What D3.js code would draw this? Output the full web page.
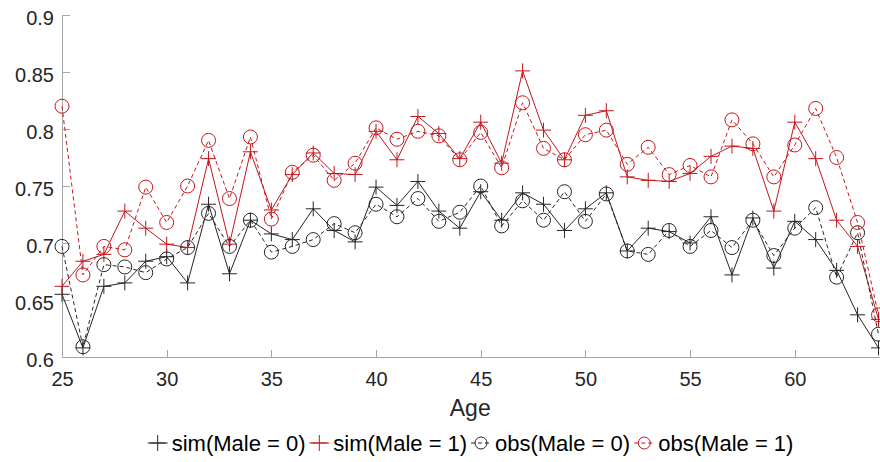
<!DOCTYPE html>
<html>
<head>
<meta charset="utf-8">
<script src="https://cdn.jsdelivr.net/npm/d3@7"></script>
<style>
html,body{margin:0;padding:0;background:#fff;}
svg{display:block;font-family:"Liberation Sans",Arial,sans-serif;}
</style>
</head>
<body>
<svg id="chart" width="880" height="462"></svg>
<script>
const ages = d3.range(25, 65);
const sim0 = [0.655,0.608,0.662,0.665,0.684,0.688,0.665,0.734,0.673,0.720,
              0.708,0.703,0.730,0.711,0.701,0.749,0.733,0.754,0.728,0.713,
              0.745,0.720,0.744,0.734,0.711,0.730,0.744,0.693,0.713,0.710,
              0.700,0.723,0.672,0.722,0.678,0.719,0.703,0.676,0.637,0.608];
const sim1 = [0.662,0.684,0.690,0.728,0.713,0.699,0.696,0.774,0.699,0.780,
              0.729,0.760,0.779,0.761,0.760,0.798,0.773,0.811,0.796,0.774,
              0.806,0.770,0.851,0.799,0.773,0.812,0.816,0.758,0.755,0.754,
              0.761,0.776,0.785,0.783,0.728,0.806,0.774,0.720,0.697,0.633];
const obs0 = [0.697,0.609,0.681,0.679,0.674,0.686,0.696,0.726,0.697,0.720,
              0.692,0.697,0.703,0.717,0.709,0.734,0.723,0.739,0.719,0.727,
              0.750,0.715,0.737,0.720,0.745,0.719,0.743,0.693,0.690,0.711,
              0.697,0.711,0.696,0.720,0.689,0.713,0.731,0.670,0.709,0.620];
const obs1 = [0.820,0.672,0.697,0.694,0.749,0.718,0.750,0.790,0.739,0.793,
              0.721,0.762,0.777,0.755,0.770,0.801,0.791,0.798,0.794,0.773,
              0.797,0.766,0.823,0.783,0.773,0.795,0.799,0.769,0.784,0.760,
              0.768,0.758,0.808,0.787,0.758,0.786,0.818,0.775,0.718,0.637];
const xTicks = [25,30,35,40,45,50,55,60];
const yTicks = [0.6,0.65,0.7,0.75,0.8,0.85,0.9];
const seriesNames = ["sim(Male = 0)","sim(Male = 1)","obs(Male = 0)","obs(Male = 1)"];

const BLACK = "#262626", RED = "#c4161c", AXIS = "#a6a6a6", TEXT = "#262626";
const series = [
  {name: seriesNames[0], values: sim0, color: BLACK, dash: null, marker: "plus"},
  {name: seriesNames[1], values: sim1, color: RED, dash: null, marker: "plus"},
  {name: seriesNames[2], values: obs0, color: BLACK, dash: "4,3", marker: "circle"},
  {name: seriesNames[3], values: obs1, color: RED, dash: "4,3", marker: "circle"}
];

const svg = d3.select("#chart");
const L = 62, R = 878.5, T = 15, B = 357;
const x = d3.scaleLinear().domain([25, 64]).range([L, R]);
const y = d3.scaleLinear().domain([0.6, 0.9]).range([B, T]);

// axes
const xAxis = d3.axisBottom(x).tickValues(xTicks).tickSizeInner(-7).tickSizeOuter(0).tickPadding(15).tickFormat(d3.format("d"));
const gx = svg.append("g").attr("transform", `translate(0,${B})`).call(xAxis);
gx.select(".domain").attr("stroke", AXIS).attr("d", `M${L},0.5H880`);
gx.selectAll(".tick line").attr("stroke", AXIS);
gx.selectAll(".tick text").attr("fill", TEXT).attr("font-size", 20)
  .attr("dy", null).attr("y", 29).attr("font-family", "Liberation Sans, Arial, sans-serif");

const yAxis = d3.axisLeft(y).tickValues(yTicks).tickSizeInner(-8).tickSizeOuter(0).tickPadding(8)
  .tickFormat(d => d3.format("")(+d.toFixed(2)));
const gy = svg.append("g").attr("transform", `translate(${L},0)`).call(yAxis);
gy.select(".domain").attr("stroke", AXIS);
gy.selectAll(".tick line").attr("stroke", AXIS);
gy.selectAll(".tick text").attr("fill", TEXT).attr("font-size", 20)
  .attr("dy", null).attr("y", 9).attr("x", -8).attr("font-family", "Liberation Sans, Arial, sans-serif");
svg.selectAll(".domain, .tick line").attr("shape-rendering", "crispEdges");

// x label
svg.append("text").attr("x", (L + R) / 2).attr("y", 416).attr("text-anchor", "middle")
  .attr("font-size", 23).attr("fill", TEXT).text("Age");

// series
const line = d3.line().x((d, i) => x(ages[i])).y(d => y(d));
const plusPath = s => `M${-s},0H${s}M0,${-s}V${s}`;

function drawMarker(g, type, color) {
  if (type === "plus") {
    g.append("path").attr("d", plusPath(7.5)).attr("stroke", color).attr("stroke-width", 1).attr("fill", "none");
  } else {
    g.append("circle").attr("r", 7).attr("stroke", color).attr("stroke-width", 1).attr("fill", "none");
  }
}

series.forEach(s => {
  const g = svg.append("g");
  g.append("path").datum(s.values).attr("d", line).attr("fill", "none")
    .attr("stroke", s.color).attr("stroke-width", 1)
    .attr("stroke-dasharray", s.dash);
  s.values.forEach((v, i) => {
    const mg = g.append("g").attr("transform", `translate(${x(ages[i])},${y(v)})`);
    drawMarker(mg, s.marker, s.color);
  });
});

// legend
const legendTextX = [171.7, 333.3, 495, 658.3];
const lg = svg.append("g");
series.forEach((s, i) => {
  const cx = legendTextX[i] - 14;
  const item = lg.append("g");
  item.append("line").attr("x1", cx - 10).attr("x2", cx + 10).attr("y1", 443).attr("y2", 443)
    .attr("stroke", s.color).attr("stroke-width", 1).attr("stroke-dasharray", s.dash);
  const mg = item.append("g").attr("transform", `translate(${cx},443)`);
  if (s.marker === "plus") {
    mg.append("path").attr("d", plusPath(8)).attr("stroke", s.color).attr("stroke-width", 1).attr("fill", "none");
  } else {
    mg.append("circle").attr("r", 6).attr("stroke", s.color).attr("stroke-width", 1).attr("fill", "none");
  }
  item.append("text").attr("x", legendTextX[i]).attr("y", 450.5).attr("font-size", 22)
    .attr("fill", "#000").text(s.name);
});
</script>
</body>
</html>
